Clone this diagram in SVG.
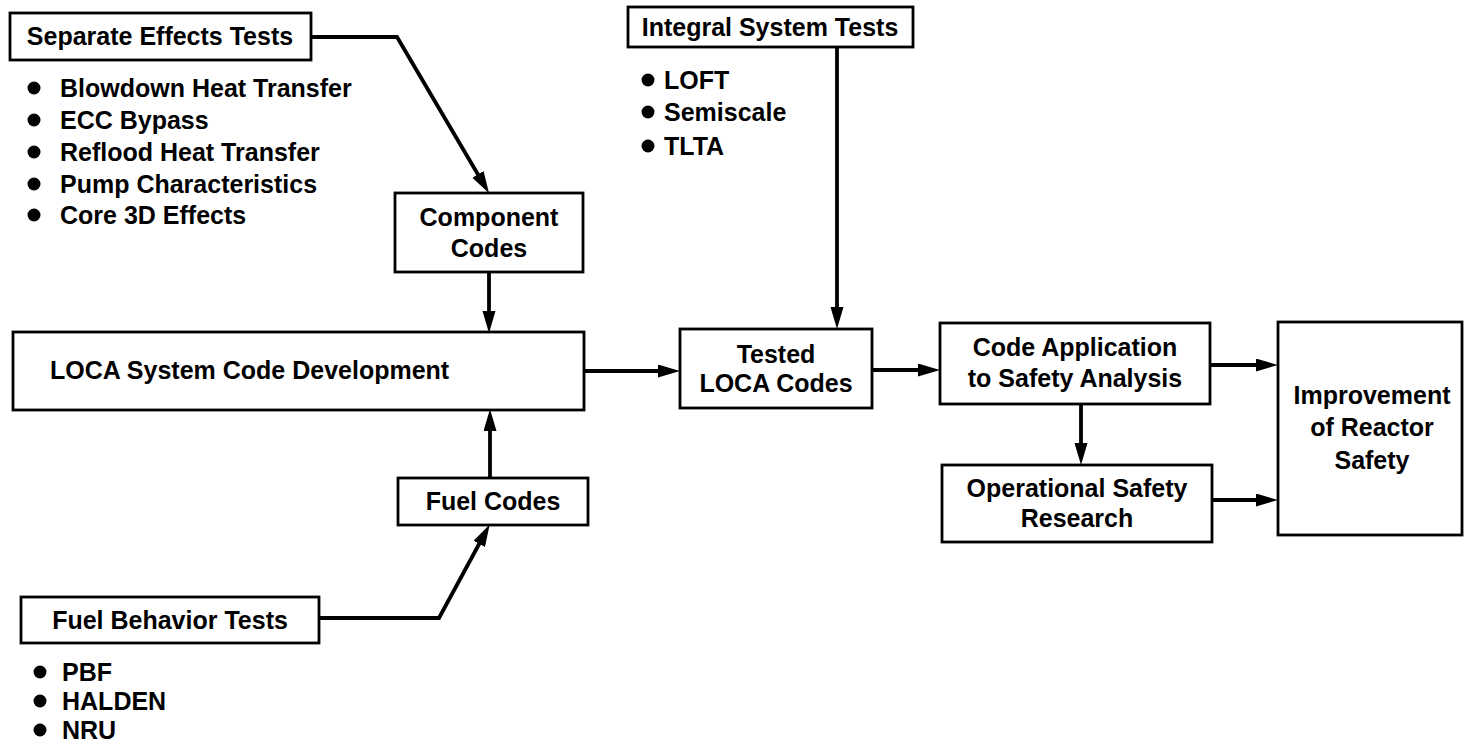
<svg xmlns="http://www.w3.org/2000/svg" width="1468" height="743" viewBox="0 0 1468 743">
<defs>
<style>
text{font-family:"Liberation Sans",Arial,sans-serif;font-size:25px;font-weight:bold;fill:#000}
.c{text-anchor:middle}
.box{fill:#fff;stroke:#000;stroke-width:2.8}
.ln{fill:none;stroke:#000;stroke-width:3.8;stroke-linejoin:miter}
.dot{fill:#000}
</style>
<marker id="ah" markerUnits="userSpaceOnUse" markerWidth="24" markerHeight="14" refX="10" refY="6.5" orient="auto">
<path d="M0,0 L22,6.5 L0,13 z" fill="#000"/>
</marker>
</defs>
<rect width="1468" height="743" fill="#fff"/>

<g id="connectors">
<path class="ln" d="M311,37 L397,37 L483,183" marker-end="url(#ah)"/>
<path class="ln" d="M489,272 L489,321" marker-end="url(#ah)"/>
<path class="ln" d="M319,618 L439,618 L484,535" marker-end="url(#ah)"/>
<path class="ln" d="M490,478 L490,421" marker-end="url(#ah)"/>
<path class="ln" d="M837,47 L837,317" marker-end="url(#ah)"/>
<path class="ln" d="M584,371 L668,371" marker-end="url(#ah)"/>
<path class="ln" d="M872,370 L928,370" marker-end="url(#ah)"/>
<path class="ln" d="M1081,404 L1081,453" marker-end="url(#ah)"/>
<path class="ln" d="M1210,365 L1266,365" marker-end="url(#ah)"/>
<path class="ln" d="M1212,500 L1266,500" marker-end="url(#ah)"/>
</g>

<g id="separate-effects-tests">
<rect class="box" x="10" y="13" width="301" height="47"/>
<text class="c" x="160" y="45">Separate Effects Tests</text>
<circle class="dot" cx="34" cy="88" r="6.5"/>
<text x="60" y="97">Blowdown Heat Transfer</text>
<circle class="dot" cx="34" cy="120" r="6.5"/>
<text x="60" y="129">ECC Bypass</text>
<circle class="dot" cx="34" cy="152" r="6.5"/>
<text x="60" y="161">Reflood Heat Transfer</text>
<circle class="dot" cx="34" cy="184" r="6.5"/>
<text x="60" y="193">Pump Characteristics</text>
<circle class="dot" cx="34" cy="215" r="6.5"/>
<text x="60" y="224">Core 3D Effects</text>
</g>

<g id="integral-system-tests">
<rect class="box" x="628" y="7" width="285" height="40"/>
<text class="c" x="770" y="36">Integral System Tests</text>
<circle class="dot" cx="648" cy="80" r="6.5"/>
<text x="664" y="89">LOFT</text>
<circle class="dot" cx="648" cy="112" r="6.5"/>
<text x="664" y="121">Semiscale</text>
<circle class="dot" cx="648" cy="146" r="6.5"/>
<text x="664" y="155">TLTA</text>
</g>

<g id="component-codes">
<rect class="box" x="395" y="193" width="188" height="79"/>
<text class="c" x="489" y="226">Component</text>
<text class="c" x="489" y="257">Codes</text>
</g>

<g id="loca-system-code-development">
<rect class="box" x="13" y="332" width="571" height="78"/>
<text x="50" y="379">LOCA System Code Development</text>
</g>

<g id="fuel-codes">
<rect class="box" x="398" y="478" width="190" height="47"/>
<text class="c" x="493" y="510">Fuel Codes</text>
</g>

<g id="fuel-behavior-tests">
<rect class="box" x="21" y="597" width="298" height="46"/>
<text class="c" x="170" y="629">Fuel Behavior Tests</text>
<circle class="dot" cx="40" cy="672" r="6.5"/>
<text x="62" y="681">PBF</text>
<circle class="dot" cx="40" cy="701" r="6.5"/>
<text x="62" y="710">HALDEN</text>
<circle class="dot" cx="40" cy="730" r="6.5"/>
<text x="62" y="739">NRU</text>
</g>

<g id="tested-loca-codes">
<rect class="box" x="680" y="329" width="192" height="79"/>
<text class="c" x="776" y="363">Tested</text>
<text class="c" x="776" y="392">LOCA Codes</text>
</g>

<g id="code-application">
<rect class="box" x="940" y="323" width="270" height="81"/>
<text class="c" x="1075" y="356">Code Application</text>
<text class="c" x="1075" y="387">to Safety Analysis</text>
</g>

<g id="operational-safety-research">
<rect class="box" x="942" y="465" width="270" height="77"/>
<text class="c" x="1077" y="497">Operational Safety</text>
<text class="c" x="1077" y="527">Research</text>
</g>

<g id="improvement-of-reactor-safety">
<rect class="box" x="1278" y="322" width="184" height="213"/>
<text class="c" x="1372" y="404">Improvement</text>
<text class="c" x="1372" y="436">of Reactor</text>
<text class="c" x="1372" y="469">Safety</text>
</g>
</svg>
